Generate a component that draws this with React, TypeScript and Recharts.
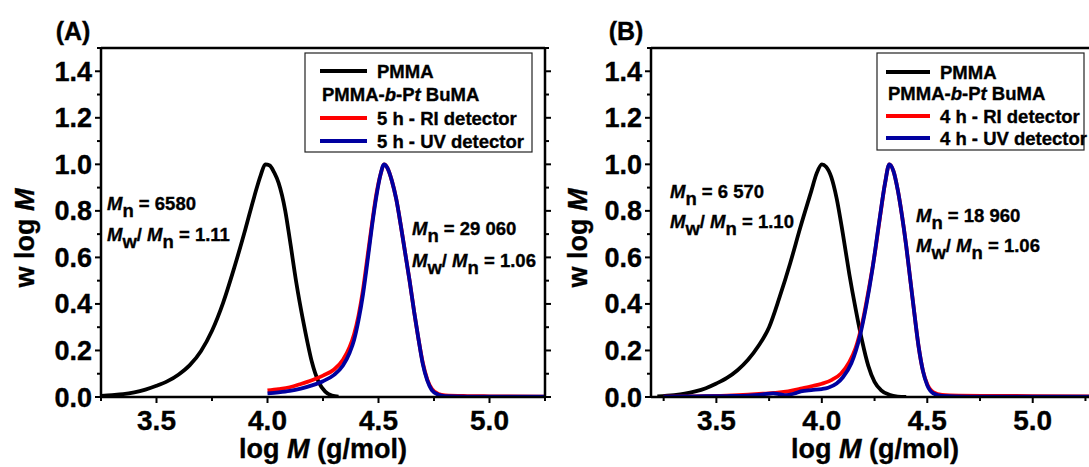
import React from 'react';
import { LineChart, Line, XAxis, YAxis, ReferenceLine } from 'recharts';

// ---------- Panel A data ----------
const A_PMMA_X = [3.25, 3.3, 3.35, 3.4, 3.45, 3.5, 3.55, 3.6, 3.65, 3.7, 3.75, 3.8, 3.85, 3.9, 3.94, 3.97, 3.99, 4.01, 4.03, 4.05, 4.08, 4.1, 4.13, 4.16, 4.18, 4.2, 4.23, 4.26, 4.29, 4.32];
const A_PMMA_Y = [0.005, 0.008, 0.012, 0.02, 0.032, 0.048, 0.068, 0.097, 0.137, 0.197, 0.285, 0.405, 0.555, 0.72, 0.86, 0.955, 1.0, 0.995, 0.965, 0.92, 0.8, 0.68, 0.49, 0.33, 0.235, 0.15, 0.065, 0.023, 0.006, 0.001];

const A_RI_X = [4.0, 4.05, 4.1, 4.15, 4.2, 4.25, 4.3, 4.34, 4.37, 4.39, 4.41, 4.43, 4.45, 4.47, 4.49, 4.51, 4.525, 4.54, 4.56, 4.58, 4.6, 4.62, 4.64, 4.66, 4.68, 4.7, 4.72, 4.74, 4.77, 4.8, 4.9, 5.0, 5.25];
const A_RI_Y = [0.028, 0.034, 0.042, 0.056, 0.072, 0.092, 0.118, 0.16, 0.215, 0.27, 0.35, 0.46, 0.6, 0.74, 0.87, 0.96, 1.0, 0.985, 0.93, 0.85, 0.74, 0.62, 0.5, 0.37, 0.25, 0.145, 0.075, 0.035, 0.013, 0.007, 0.004, 0.003, 0.002];

const A_UV_X = [4.0, 4.05, 4.1, 4.15, 4.2, 4.25, 4.3, 4.34, 4.37, 4.39, 4.41, 4.43, 4.45, 4.47, 4.49, 4.51, 4.525, 4.54, 4.56, 4.58, 4.6, 4.62, 4.64, 4.66, 4.68, 4.7, 4.72, 4.74, 4.77, 4.8, 4.9, 5.0, 5.25];
const A_UV_Y = [0.016, 0.02, 0.026, 0.036, 0.05, 0.068, 0.095, 0.135, 0.19, 0.245, 0.33, 0.44, 0.58, 0.73, 0.86, 0.96, 1.0, 0.985, 0.93, 0.85, 0.74, 0.62, 0.5, 0.37, 0.25, 0.14, 0.07, 0.03, 0.01, 0.004, 0.002, 0.002, 0.002];

// ---------- Panel B data ----------
const B_PMMA_X = [3.22, 3.3, 3.35, 3.4, 3.45, 3.5, 3.55, 3.6, 3.65, 3.7, 3.75, 3.8, 3.85, 3.9, 3.95, 3.975, 4.0, 4.02, 4.045, 4.07, 4.1, 4.13, 4.16, 4.19, 4.22, 4.25, 4.28, 4.32, 4.36, 4.4];
const B_PMMA_Y = [0.003, 0.008, 0.014, 0.024, 0.038, 0.058, 0.082, 0.115, 0.16, 0.22, 0.3, 0.43, 0.575, 0.735, 0.885, 0.96, 1.0, 0.99, 0.945, 0.855, 0.7, 0.53, 0.38, 0.245, 0.135, 0.065, 0.03, 0.01, 0.002, 0.0];

const B_RI_X = [3.25, 3.4, 3.55, 3.65, 3.72, 3.78, 3.84, 3.9, 3.95, 4.0, 4.05, 4.09, 4.13, 4.16, 4.19, 4.22, 4.25, 4.28, 4.3, 4.32, 4.34, 4.36, 4.38, 4.4, 4.42, 4.44, 4.46, 4.48, 4.5, 4.53, 4.57, 4.65, 4.8, 5.0, 5.3];
const B_RI_Y = [0.002, 0.003, 0.006, 0.01, 0.014, 0.018, 0.024, 0.036, 0.046, 0.057, 0.075, 0.1, 0.15, 0.21, 0.31, 0.45, 0.61, 0.8, 0.92, 1.0, 0.97, 0.89, 0.78, 0.65, 0.5, 0.35, 0.21, 0.11, 0.055, 0.02, 0.009, 0.006, 0.005, 0.004, 0.002];

const B_UV_X = [3.25, 3.4, 3.55, 3.65, 3.72, 3.77, 3.8, 3.83, 3.87, 3.9, 3.95, 4.0, 4.03, 4.07, 4.1, 4.14, 4.18, 4.21, 4.24, 4.27, 4.3, 4.32, 4.34, 4.36, 4.38, 4.4, 4.42, 4.44, 4.46, 4.48, 4.5, 4.53, 4.57, 4.7, 5.3];
const B_UV_Y = [0.002, 0.003, 0.004, 0.006, 0.011, 0.016, 0.012, 0.008, 0.015, 0.024, 0.03, 0.034, 0.04, 0.058, 0.085, 0.145, 0.26, 0.39, 0.55, 0.74, 0.92, 1.0, 0.97, 0.89, 0.78, 0.65, 0.5, 0.35, 0.21, 0.11, 0.05, 0.015, 0.005, 0.002, 0.001];

// ---------- Axis ticks ----------
const X_TICKS = [3.25, 3.5, 3.75, 4.0, 4.25, 4.5, 4.75, 5.0, 5.25];
const Y_TICKS = [0, 0.1, 0.2, 0.3, 0.4, 0.5, 0.6, 0.7, 0.8, 0.9, 1.0, 1.1, 1.2, 1.3, 1.4, 1.5];
const X_DOMAIN_A: [number, number] = [3.25, 5.25];
const X_DOMAIN_B: [number, number] = [3.19, 5.3];
const Y_DOMAIN: [number, number] = [0, 1.5];

// ---------- Labels ----------
const LEGEND_A = ['PMMA', '5 h - RI detector', '5 h - UV detector'];
const LEGEND_B = ['PMMA', '4 h - RI detector', '4 h - UV detector'];
const ANNOT_A = { left: ['6580', '1.11'], right: ['29 060', '1.06'] };
const ANNOT_B = { left: ['6 570', '1.10'], right: ['18 960', '1.06'] };

const zip = (xs: number[], ys: number[]) => xs.map((x, i) => ({ x, y: ys[i] }));

const FONT = '"Liberation Sans", Arial, Helvetica, sans-serif';
const RED = '#ff0000';
const BLUE = '#0000a0';
const HEAVY = { stroke: '#000', strokeWidth: 0.35 };

const isMajorX = (v: number) => Math.abs(v * 2 - Math.round(v * 2)) < 1e-6;
const isMajorY = (v: number) => Math.abs(v * 5 - Math.round(v * 5)) < 1e-6;

const XTick = (props: any) => {
  const { x, y, payload } = props;
  const major = isMajorX(payload.value);
  return (
    <g>
      <line x1={x} x2={x} y1={y} y2={y + (major ? 6 : 4)} stroke="#000" strokeWidth={2} />
      {major && (
        <text x={x} y={y + 33} textAnchor="middle" fontFamily={FONT} fontWeight="bold" fontSize={28} fill="#000" {...HEAVY}>
          {Number(payload.value).toFixed(1)}
        </text>
      )}
    </g>
  );
};

const YTick = (props: any) => {
  const { x, y, payload } = props;
  const major = isMajorY(payload.value);
  return (
    <g>
      <line x1={x} x2={x - (major ? 6 : 4)} y1={y} y2={y} stroke="#000" strokeWidth={2} />
      {major && (
        <text x={x - 9} y={y + 9.5} textAnchor="end" fontFamily={FONT} fontWeight="bold" fontSize={27} fill="#000" {...HEAVY}>
          {Number(payload.value).toFixed(1)}
        </text>
      )}
    </g>
  );
};

const YTickRight = (props: any) => {
  const { x, y, payload } = props;
  const major = isMajorY(payload.value);
  return <line x1={x} x2={x + (major ? 6 : 4)} y1={y} y2={y} stroke="#000" strokeWidth={2} />;
};

const AXIS_LINE = { stroke: '#000', strokeWidth: 2.5 };

type PanelProps = {
  domain: [number, number];
  width: number;
  margin: { top: number; right: number; bottom: number; left: number };
  pmma: { x: number; y: number }[];
  ri: { x: number; y: number }[];
  uv: { x: number; y: number }[];
  rightAxis: boolean;
};

const Panel = ({ domain, width, margin, pmma, ri, uv, rightAxis }: PanelProps) => (
  <LineChart width={width} height={467} margin={margin}>
    <XAxis
      type="number"
      dataKey="x"
      domain={domain}
      allowDataOverflow
      ticks={X_TICKS}
      interval={0}
      tickSize={0}
      tickMargin={0}
      tickLine={false}
      axisLine={AXIS_LINE}
      height={30}
      tick={(p: any) => <XTick {...p} />}
    />
    <YAxis
      yAxisId="l"
      type="number"
      domain={Y_DOMAIN}
      allowDataOverflow
      ticks={Y_TICKS}
      interval={0}
      tickSize={0}
      tickMargin={0}
      tickLine={false}
      axisLine={AXIS_LINE}
      width={60}
      tick={(p: any) => <YTick {...p} />}
    />
    {rightAxis && (
      <YAxis
        yAxisId="r"
        orientation="right"
        type="number"
        domain={Y_DOMAIN}
        allowDataOverflow
        ticks={Y_TICKS}
        interval={0}
        tickSize={0}
        tickMargin={0}
        tickLine={false}
        axisLine={AXIS_LINE}
        width={5}
        tick={(p: any) => <YTickRight {...p} />}
      />
    )}
    <ReferenceLine yAxisId="l" y={1.5} stroke="#000" strokeWidth={2.5} ifOverflow="visible" />
    <Line yAxisId="l" data={pmma} dataKey="y" type="monotone" stroke="#000" strokeWidth={3.8} dot={false} isAnimationActive={false} />
    <Line yAxisId="l" data={ri} dataKey="y" type="monotone" stroke={RED} strokeWidth={3.8} dot={false} isAnimationActive={false} />
    <Line yAxisId="l" data={uv} dataKey="y" type="monotone" stroke={BLUE} strokeWidth={3.8} dot={false} isAnimationActive={false} />
  </LineChart>
);

const Legend = ({ x, y, w, h, labels, lineX1, lineX2, textX, subX, rows }: any) => (
  <g fontFamily={FONT} fontWeight="bold" fontSize={18.5} fill="#000">
    <rect x={x} y={y} width={w} height={h} fill="#fff" stroke="#222" strokeWidth={1.2} />
    <line x1={lineX1} x2={lineX2} y1={rows[0]} y2={rows[0]} stroke="#000" strokeWidth={4} />
    <text x={textX} y={rows[0] + 7} {...HEAVY}>{labels[0]}</text>
    <text x={subX} y={rows[1] + 7} {...HEAVY}>
      PMMA-<tspan fontStyle="italic">b</tspan>-P<tspan fontStyle="italic">t</tspan> BuMA
    </text>
    <line x1={lineX1} x2={lineX2} y1={rows[2]} y2={rows[2]} stroke={RED} strokeWidth={4} />
    <text x={textX} y={rows[2] + 7} {...HEAVY}>{labels[1]}</text>
    <line x1={lineX1} x2={lineX2} y1={rows[3]} y2={rows[3]} stroke={BLUE} strokeWidth={4} />
    <text x={textX} y={rows[3] + 7} {...HEAVY}>{labels[2]}</text>
  </g>
);

const Annot = ({ x, y1, y2, mn, pdi }: any) => (
  <g fontFamily={FONT} fontWeight="bold" fontSize={18.5} fill="#000" {...HEAVY}>
    <text x={x} y={y1}>
      <tspan fontStyle="italic">M</tspan>
      <tspan dy={7}>n</tspan>
      <tspan dy={-7}>{' = ' + mn}</tspan>
    </text>
    <text x={x} y={y2}>
      <tspan fontStyle="italic">M</tspan>
      <tspan dy={7}>w</tspan>
      <tspan dy={-7}>/ </tspan>
      <tspan fontStyle="italic">M</tspan>
      <tspan dy={7}>n</tspan>
      <tspan dy={-7}>{' = ' + pdi}</tspan>
    </text>
  </g>
);

const AxisTitles = ({ cx, ty }: any) => (
  <g fontFamily={FONT} fontWeight="bold" fontSize={27} fill="#000" {...HEAVY}>
    <text x={cx} y={458} textAnchor="middle">
      log <tspan fontStyle="italic">M</tspan> (g/mol)
    </text>
    <text transform={`translate(${ty},238) rotate(-90)`} textAnchor="middle">
      w log <tspan fontStyle="italic">M</tspan>
    </text>
  </g>
);

export default function App() {
  return (
    <div style={{ position: 'absolute', left: 0, top: 0, width: 1089, height: 467, overflow: 'hidden', background: '#fff' }}>
      <div style={{ position: 'absolute', left: 0, top: 0 }}>
        <Panel
          domain={X_DOMAIN_A}
          width={552}
          margin={{ top: 48, right: 2, bottom: 40, left: 41 }}
          pmma={zip(A_PMMA_X, A_PMMA_Y)}
          ri={zip(A_RI_X, A_RI_Y)}
          uv={zip(A_UV_X, A_UV_Y)}
          rightAxis
        />
      </div>
      <div style={{ position: 'absolute', left: 545, top: 0 }}>
        <Panel
          domain={X_DOMAIN_B}
          width={551}
          margin={{ top: 48, right: 0, bottom: 40, left: 46 }}
          pmma={zip(B_PMMA_X, B_PMMA_Y)}
          ri={zip(B_RI_X, B_RI_Y)}
          uv={zip(B_UV_X, B_UV_Y)}
          rightAxis={false}
        />
      </div>
      <svg width={1089} height={467} style={{ position: 'absolute', left: 0, top: 0, pointerEvents: 'none' }}>
        <g fontFamily={FONT} fontWeight="bold" fontSize={25} fill="#000" {...HEAVY}>
          <text x={73} y={40} textAnchor="middle">(A)</text>
          <text x={626} y={40} textAnchor="middle">(B)</text>
        </g>
        <AxisTitles cx={323} ty={34} />
        <AxisTitles cx={875} ty={587} />
        <Legend x={305} y={53} w={227} h={99} labels={LEGEND_A} lineX1={320} lineX2={367} textX={377} subX={322} rows={[71, 94, 118, 141]} />
        <Legend x={877} y={53} w={207} h={97} labels={LEGEND_B} lineX1={886} lineX2={930} textX={940} subX={888} rows={[72, 93, 116, 138]} />
        <Annot x={107} y1={210} y2={241} mn={ANNOT_A.left[0]} pdi={ANNOT_A.left[1]} />
        <Annot x={412} y1={235} y2={267} mn={ANNOT_A.right[0]} pdi={ANNOT_A.right[1]} />
        <Annot x={670} y1={198} y2={228} mn={ANNOT_B.left[0]} pdi={ANNOT_B.left[1]} />
        <Annot x={916} y1={222} y2={252} mn={ANNOT_B.right[0]} pdi={ANNOT_B.right[1]} />
      </svg>
    </div>
  );
}
